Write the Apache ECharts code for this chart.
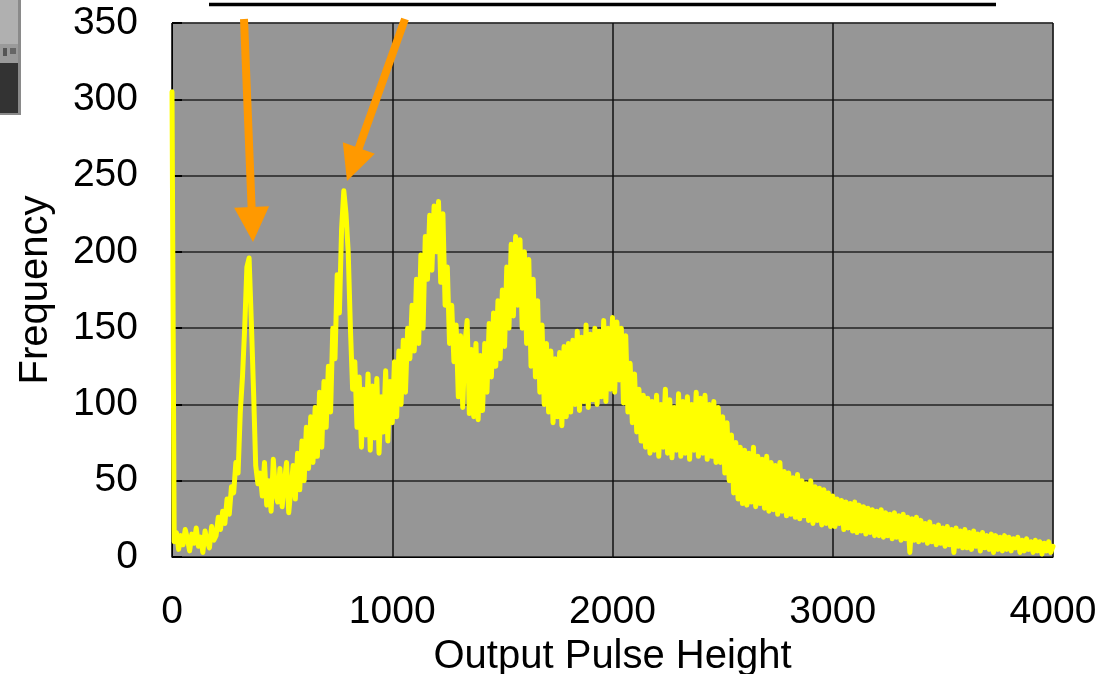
<!DOCTYPE html>
<html>
<head>
<meta charset="utf-8">
<script src="https://cdn.jsdelivr.net/npm/echarts@6/dist/echarts.min.js"></script>
<style>
html,body{margin:0;padding:0;background:#fff;}
#chart{width:1106px;height:674px;}
</style>
</head>
<body>
<div id="chart"></div>
<script>
// Channel step of the pulse-height histogram
const channelStep = 10;
// Frequency per channel (x = 0, 10, 20, ... 4000)
const frequency = [
  305, 10, 16, 5, 14, 8, 18, 12, 4, 15, 9, 19, 7, 13, 3, 17, 10, 6, 20, 11,
  14, 26, 18, 30, 22, 38, 28, 46, 42, 62, 55, 95, 118, 150, 190, 196, 155, 110, 60, 48,
  55, 40, 62, 34, 50, 30, 64, 42, 36, 58, 33, 48, 62, 29, 45, 60, 38, 68, 44, 76,
  50, 85, 58, 92, 62, 98, 66, 108, 72, 115, 85, 125, 95, 150, 130, 185, 160, 215, 240, 225,
  200, 150, 110, 128, 85, 118, 72, 110, 80, 120, 70, 112, 78, 117, 68, 105, 82, 122, 76, 115,
  88, 128, 92, 135, 100, 142, 108, 150, 130, 165, 135, 182, 140, 198, 150, 210, 182, 224, 188, 230,
  200, 233, 180, 225, 165, 190, 140, 165, 128, 152, 105, 145, 98, 140, 155, 94, 136, 92, 140, 90,
  132, 96, 140, 108, 153, 118, 160, 125, 168, 130, 175, 138, 190, 150, 205, 158, 210, 165, 208, 150,
  200, 140, 195, 125, 182, 118, 168, 108, 152, 100, 140, 95, 135, 88, 130, 92, 134, 86, 138, 92,
  140, 95, 142, 100, 148, 96, 144, 102, 152, 98, 146, 103, 150, 100, 148, 105, 155, 102, 150, 110,
  157, 108, 154, 116, 150, 101, 145, 95, 127, 88, 120, 82, 110, 76, 106, 72, 104, 68, 102, 70,
  106, 66, 100, 72, 110, 68, 103, 65, 98, 70, 107, 66, 102, 68, 105, 64, 100, 70, 108, 66,
  104, 68, 106, 64, 100, 66, 102, 62, 98, 62, 92, 55, 88, 50, 80, 42, 75, 38, 72, 35,
  70, 34, 68, 36, 72, 33, 66, 35, 64, 32, 66, 30, 62, 31, 60, 28, 62, 30, 56, 27,
  55, 28, 52, 26, 54, 25, 50, 27, 48, 24, 50, 22, 46, 24, 45, 21, 44, 22, 42, 20,
  40, 20, 38, 22, 37, 18, 36, 19, 35, 17, 36, 16, 34, 17, 33, 15, 32, 16, 31, 14,
  30, 14, 31, 13, 29, 14, 28, 12, 29, 13, 27, 11, 28, 12, 26, 3, 25, 11, 26, 10,
  24, 11, 22, 9, 23, 10, 20, 8, 21, 9, 19, 7, 20, 8, 18, 3, 19, 7, 17, 6,
  18, 6, 16, 5, 17, 7, 15, 4, 16, 6, 14, 5, 15, 3, 14, 5, 13, 4, 14, 5,
  13, 4, 12, 6, 13, 3, 11, 4, 12, 5, 10, 3, 11, 4, 10, 2, 9, 4, 10, 3,
  7
];
const xTicks = [0, 1000, 2000, 3000, 4000];
const yTicks = [0, 50, 100, 150, 200, 250, 300, 350];
const xName = 'Output Pulse Height';
const yName = 'Frequency';

const seriesData = frequency.map((v, i) => [i * channelStep, v]);

const chart = echarts.init(document.getElementById('chart'), null, {renderer: 'canvas'});
const font = '"Liberation Sans", Arial, sans-serif';

function arrow(x1, y1, x2, y2, headLen, headHalf, width, color) {
  const dx = x2 - x1, dy = y2 - y1, L = Math.hypot(dx, dy);
  const ux = dx / L, uy = dy / L, px = -uy, py = ux;
  const bx = x2 - ux * headLen, by = y2 - uy * headLen;
  return [
    {type: 'line', shape: {x1: x1, y1: y1, x2: bx + ux * 2, y2: by + uy * 2},
     style: {stroke: color, lineWidth: width}, z: 100},
    {type: 'polygon', shape: {points: [[bx + px * headHalf, by + py * headHalf], [bx - px * headHalf, by - py * headHalf], [x2, y2]]},
     style: {fill: color}, z: 100}
  ];
}

chart.setOption({
  animation: false,
  backgroundColor: '#ffffff',
  grid: {left: 172, right: 53, top: 23, bottom: 117, outerBoundsMode: 'none', containLabel: false,
         show: true, backgroundColor: '#969696', borderColor: '#7a7a7a', borderWidth: 1},
  xAxis: {
    type: 'value', min: xTicks[0], max: xTicks[xTicks.length - 1], interval: 1000,
    name: xName, nameLocation: 'middle', nameGap: 76,
    nameTextStyle: {fontFamily: font, fontSize: 40, color: '#000'},
    axisLine: {show: true, lineStyle: {color: '#000', width: 1}},
    axisTick: {show: false},
    axisLabel: {fontFamily: font, fontSize: 39, color: '#000', margin: 36, formatter: v => String(v)},
    splitLine: {show: true, lineStyle: {color: '#111', width: 1.5}}
  },
  yAxis: {
    type: 'value', min: yTicks[0], max: yTicks[yTicks.length - 1], interval: 50,
    name: yName, nameLocation: 'middle', nameGap: 116,
    nameTextStyle: {fontFamily: font, fontSize: 40, color: '#000'},
    axisLine: {show: true, lineStyle: {color: '#000', width: 1}},
    axisTick: {show: true, inside: true, length: 10, lineStyle: {color: '#000', width: 2}},
    axisLabel: {fontFamily: font, fontSize: 39, color: '#000', margin: 34, formatter: v => String(v)},
    splitLine: {show: true, lineStyle: {color: '#222', width: 1.5}}
  },
  series: [{
    type: 'line', data: seriesData, showSymbol: false, clip: true,
    lineStyle: {color: '#ffff00', width: 5, join: 'round', cap: 'round'},
    z: 5
  }],
  graphic: [
    // cropped picture at top-left
    {type: 'rect', shape: {x: 0, y: 0, width: 20, height: 44}, style: {fill: '#b0b0b0'}},
    {type: 'rect', shape: {x: 0, y: 44, width: 20, height: 19}, style: {fill: '#9a9a9a'}},
    {type: 'rect', shape: {x: 3, y: 48, width: 4, height: 8}, style: {fill: '#555'}},
    {type: 'rect', shape: {x: 10, y: 48, width: 6, height: 6}, style: {fill: '#666'}},
    {type: 'rect', shape: {x: 0, y: 63, width: 20, height: 51}, style: {fill: '#333333'}},
    {type: 'rect', shape: {x: 18, y: 0, width: 3, height: 115}, style: {fill: '#8a8a8a'}},
    {type: 'rect', shape: {x: 0, y: 113, width: 21, height: 2}, style: {fill: '#8a8a8a'}},
    // title underline fragment
    {type: 'line', shape: {x1: 209, y1: 4.5, x2: 996, y2: 4.5}, style: {stroke: '#000', lineWidth: 3.5}},
    ...arrow(244, 19, 253, 242, 35, 17.5, 8, '#ff9900'),
    ...arrow(405, 19, 347, 181, 35, 17, 8, '#ff9900')
  ]
});
</script>
</body>
</html>
